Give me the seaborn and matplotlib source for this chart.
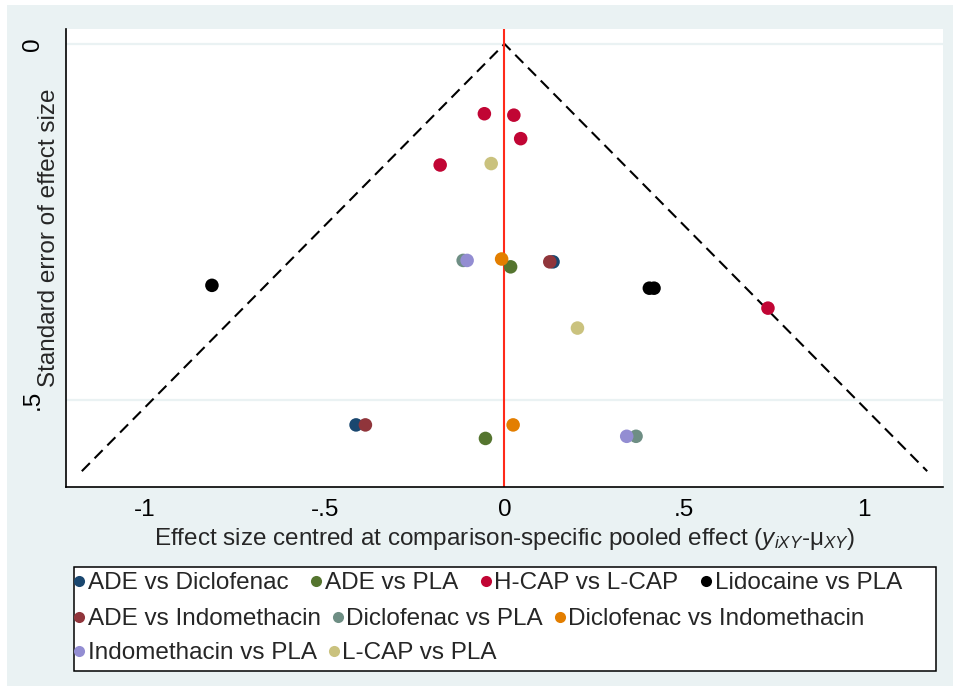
import matplotlib
matplotlib.use("Agg")
import matplotlib.pyplot as plt
from matplotlib.patches import Rectangle
from matplotlib.lines import Line2D
import seaborn as sns
import pandas as pd

sns.set_style("white")
plt.rcParams['font.family'] = ['Liberation Sans', 'DejaVu Sans']
plt.rcParams['mathtext.fontset'] = 'custom'
plt.rcParams['mathtext.rm'] = 'Liberation Sans'
plt.rcParams['mathtext.it'] = 'Liberation Sans:italic'

# ---- data ----
comparisons = ["ADE vs Diclofenac", "ADE vs Indomethacin", "ADE vs PLA",
               "Diclofenac vs Indomethacin", "Diclofenac vs PLA", "H-CAP vs L-CAP",
               "Indomethacin vs PLA", "L-CAP vs PLA", "Lidocaine vs PLA"]
colors = ["#1A476F", "#90353B", "#55752F", "#E37E00", "#6E8E84",
          "#C10534", "#938DD2", "#CAC27E", "#000000"]

ade_diclo_x = [0.135, -0.413]
ade_diclo_se = [0.306, 0.535]
ade_indo_x = [0.126, -0.387]
ade_indo_se = [0.306, 0.535]
ade_pla_x = [0.017, -0.053]
ade_pla_se = [0.313, 0.554]
diclo_indo_x = [-0.008, 0.024]
diclo_indo_se = [0.302, 0.535]
diclo_pla_x = [-0.115, 0.366]
diclo_pla_se = [0.304, 0.551]
hcap_lcap_x = [-0.056, 0.026, 0.045, -0.179, 0.733]
hcap_lcap_se = [0.098, 0.100, 0.133, 0.170, 0.371]
indo_pla_x = [-0.104, 0.340]
indo_pla_se = [0.304, 0.551]
lcap_pla_x = [-0.037, 0.203]
lcap_pla_se = [0.168, 0.399]
lido_pla_x = [-0.814, 0.403, 0.416]
lido_pla_se = [0.339, 0.343, 0.343]

series_x = [ade_diclo_x, ade_indo_x, ade_pla_x, diclo_indo_x, diclo_pla_x,
            hcap_lcap_x, indo_pla_x, lcap_pla_x, lido_pla_x]
series_se = [ade_diclo_se, ade_indo_se, ade_pla_se, diclo_indo_se, diclo_pla_se,
             hcap_lcap_se, indo_pla_se, lcap_pla_se, lido_pla_se]

funnel_x = [-1.176, 0.0, 1.176]
funnel_se = [0.6, 0.0, 0.6]

x_ticks = [-1, -0.5, 0, 0.5, 1]
x_ticklabels = ["-1", "-.5", "0", ".5", "1"]
y_ticks = [0, 0.5]
y_ticklabels = ["0", ".5"]

legend_order = ["ADE vs Diclofenac", "ADE vs PLA", "H-CAP vs L-CAP", "Lidocaine vs PLA",
                "ADE vs Indomethacin", "Diclofenac vs PLA", "Diclofenac vs Indomethacin",
                "Indomethacin vs PLA", "L-CAP vs PLA"]
legend_rows = [4, 3, 2]

rows = []
for c, xs, ses in zip(comparisons, series_x, series_se):
    for xv, sv in zip(xs, ses):
        rows.append({"comparison": c, "x": xv, "se": sv})
df = pd.DataFrame(rows)
palette = dict(zip(comparisons, colors))

FS = 17.5

# ---- figure ----
W, H = 954, 686
fig = plt.figure(figsize=(W / 100, H / 100), dpi=100, facecolor="white")
bg = "#EAF2F3"
fig.patches.append(Rectangle((7 / W, 0), (W - 7) / W, (H - 5) / H,
                             transform=fig.transFigure, facecolor=bg,
                             edgecolor="none", zorder=-10))

ax = fig.add_axes([66 / W, (H - 486.5) / H, (943 - 66) / W, (486.5 - 29) / H])
ax.set_facecolor("white")

for yv in y_ticks:
    ax.axhline(yv, color=bg, lw=1.6, zorder=0.5)

ax.plot(funnel_x, funnel_se, color="black", lw=1.5, ls=(0, (5.5, 3.2)), zorder=1)
ax.axvline(0, color="#FF2A1A", lw=1.5, zorder=1.5)

sns.scatterplot(data=df, x="x", y="se", hue="comparison", hue_order=comparisons,
                palette=palette, s=95, linewidth=0, alpha=1, ax=ax, legend=False,
                zorder=3)

ax.set_xlim(-1.22, 1.22)
ax.set_ylim(0.6215, -0.021)
ax.set_xticks(x_ticks)
ax.set_xticklabels(x_ticklabels)
ax.set_yticks(y_ticks)
ax.set_yticklabels(y_ticklabels, rotation=90, va="center")

for s in ["top", "right"]:
    ax.spines[s].set_visible(False)
for s in ["left", "bottom"]:
    ax.spines[s].set_color("black")
    ax.spines[s].set_linewidth(1.2)
ax.tick_params(axis="both", direction="out", length=6, width=1.1,
               color="black", labelsize=FS, labelcolor="black")
ax.tick_params(axis="x", pad=3)
ax.tick_params(axis="y", pad=10)

ax.set_xlabel(r"Effect size centred at comparison-specific pooled effect ($y_{iXY}$-μ$_{XY}$)",
              fontsize=FS, va="center")
ax.xaxis.set_label_coords(0.5, (486.5 - 539) / 457.5)
ax.set_ylabel("Standard error of effect size", fontsize=FS, va="center")
ax.yaxis.set_label_coords((49 - 66) / 877, (486.5 - 238) / 457.5)

# ---- legend (flow layout, one row at a time) ----
row_y = [583, 619, 653]
start = 0
for n, ry in zip(legend_rows, row_y):
    labs = legend_order[start:start + n]
    start += n
    handles = [Line2D([], [], ls="none", marker="o", markersize=8,
                      markerfacecolor=palette[l], markeredgewidth=0) for l in labs]
    fig.legend(handles, labs, ncol=n, loc="center left",
               bbox_to_anchor=(73 / W, 1 - ry / H), frameon=False,
               fontsize=FS, handlelength=0.5, handletextpad=0.1,
               columnspacing=0.45 if n != 4 else 0.9, borderpad=0, borderaxespad=0)

fig.patches.append(Rectangle((74 / W, 1 - 671 / H), (936 - 74) / W, (671 - 567) / H,
                             transform=fig.transFigure, facecolor="white",
                             edgecolor="black", lw=1.1, zorder=-5))

fig.savefig("out.png", dpi=100, facecolor=fig.get_facecolor())
